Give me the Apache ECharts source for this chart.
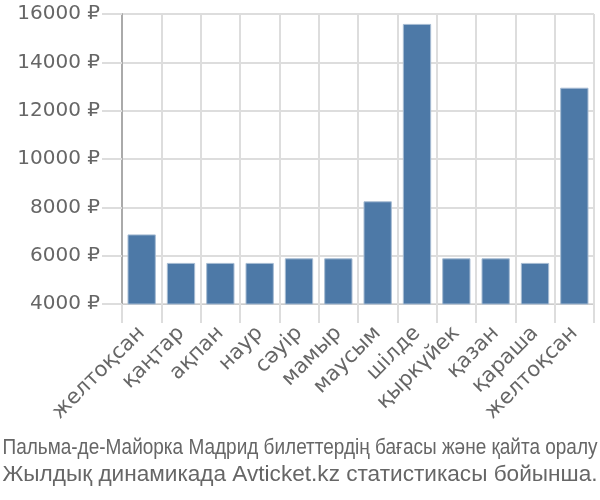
<!DOCTYPE html>
<html><head><meta charset="utf-8">
<script src="https://cdn.jsdelivr.net/npm/echarts@6/dist/echarts.min.js"></script>
<style>html,body{margin:0;padding:0;background:#fff}#c{width:600px;height:500px}</style>
</head><body><div id="c"></div>
<script>
var categories = ['желтоқсан','қаңтар','ақпан','наур','сәуір','мамыр','маусым','шілде','қыркүйек','қазан','қараша','желтоқсан'];
var prices = [6880, 5700, 5700, 5700, 5890, 5890, 8250, 15590, 5890, 5890, 5700, 12950];
var yMin = 4000, yMax = 16000, yStep = 2000;
var titleLines = ['Пальма-де-Майорка Мадрид билеттердің бағасы және қайта оралу', 'Жылдық динамикада Avticket.kz статистикасы бойынша.'];

var titleFont = '22px "Liberation Sans", Arial, sans-serif';
var ctx = document.createElement('canvas').getContext('2d');
ctx.font = titleFont;

var chart = echarts.init(document.getElementById('c'), null, {renderer:'canvas'});
chart.setOption({
  animation:false,
  grid:{left:122, right:6, top:14, bottom:196},
  graphic: titleLines.map(function(t, i){
    return {type:'text', x:300, y:448 + i*27, scaleX:595 / ctx.measureText(t).width, silent:true,
      style:{text:t, font:titleFont, fill:'#666', textAlign:'center', textVerticalAlign:'middle'}};
  }),
  xAxis:{
    type:'category', data:categories, boundaryGap:true,
    axisLine:{show:true, lineStyle:{color:'#ccc', width:1}},
    axisTick:{show:true, length:19, lineStyle:{color:'#ddd', width:2}},
    splitLine:{show:true, lineStyle:{color:'#ddd', width:2}},
    axisLabel:{rotate:45, margin:26, fontSize:21, color:'#666', fontFamily:'"DejaVu Sans", sans-serif', interval:0}
  },
  yAxis:{
    type:'value', min:yMin, max:yMax, interval:yStep,
    axisLine:{show:true, lineStyle:{color:'#aaa', width:2}},
    axisTick:{show:true, length:20, lineStyle:{color:'#ddd', width:2}},
    splitLine:{show:true, lineStyle:{color:'#ddd', width:2}},
    axisLabel:{margin:22, fontSize:20, color:'#666', fontFamily:'"DejaVu Sans", sans-serif', formatter:function(v){return v+' ₽';}}
  },
  series:[{
    type:'bar', data:prices, barCategoryGap:'28%',
    itemStyle:{color:'#4d79a7', borderColor:'#a7bcd3', borderWidth:1}
  }]
});
</script></body></html>
